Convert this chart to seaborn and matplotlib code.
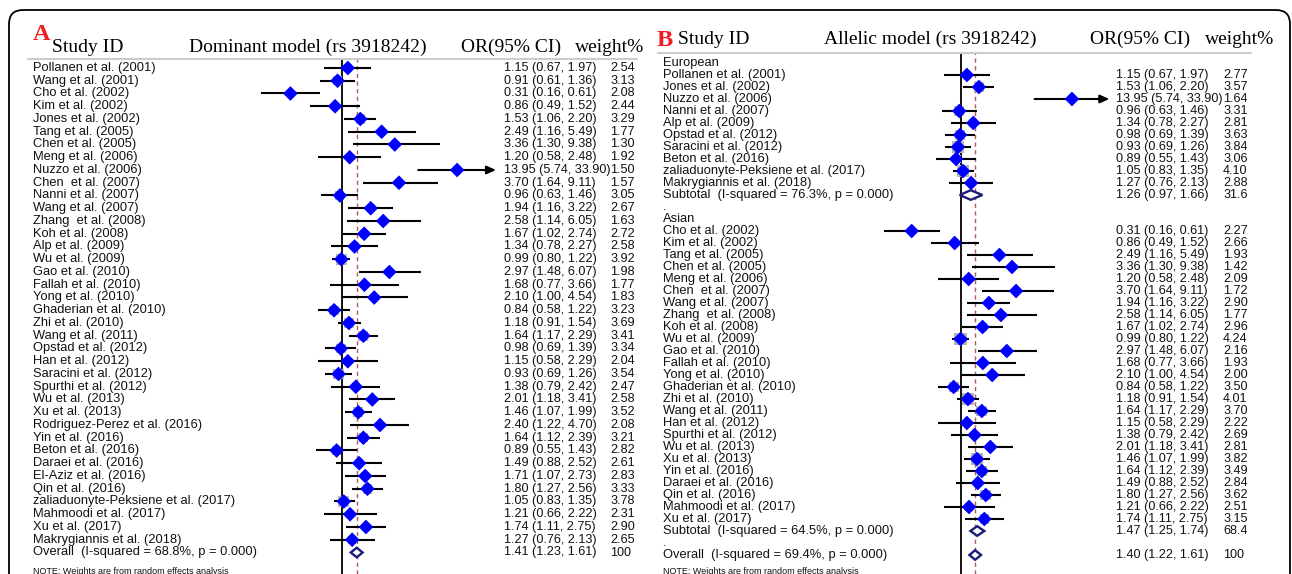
import numpy as np
import pandas as pd
import matplotlib
matplotlib.use("Agg")
import matplotlib.pyplot as plt
import seaborn as sns
from matplotlib import font_manager
from matplotlib.transforms import blended_transform_factory, IdentityTransform
from matplotlib.patches import FancyBboxPatch, Polygon

# -----------------------------
# Panel A: dominant model (rs 3918242)
# -----------------------------
studies_a = [
    "Pollanen et al. (2001)", "Wang et al. (2001)", "Cho et al. (2002)", "Kim et al. (2002)",
    "Jones et al. (2002)", "Tang et al. (2005)", "Chen et al. (2005)", "Meng et al. (2006)",
    "Nuzzo et al. (2006)", "Chen  et al. (2007)", "Nanni et al. (2007)", "Wang et al. (2007)",
    "Zhang  et al. (2008)", "Koh et al. (2008)", "Alp et al. (2009)", "Wu et al. (2009)",
    "Gao et al. (2010)", "Fallah et al. (2010)", "Yong et al. (2010)", "Ghaderian et al. (2010)",
    "Zhi et al. (2010)", "Wang et al. (2011)", "Opstad et al. (2012)", "Han et al. (2012)",
    "Saracini et al. (2012)", "Spurthi et al. (2012)", "Wu et al. (2013)", "Xu et al. (2013)",
    "Rodriguez-Perez et al. (2016)", "Yin et al. (2016)", "Beton et al. (2016)", "Daraei et al. (2016)",
    "El-Aziz et al. (2016)", "Qin et al. (2016)", "zaliaduonyte-Peksiene et al. (2017)",
    "Mahmoodi et al. (2017)", "Xu et al. (2017)", "Makrygiannis et al. (2018)",
]
or_a = [1.15, 0.91, 0.31, 0.86, 1.53, 2.49, 3.36, 1.20, 13.95, 3.70, 0.96, 1.94, 2.58, 1.67,
        1.34, 0.99, 2.97, 1.68, 2.10, 0.84, 1.18, 1.64, 0.98, 1.15, 0.93, 1.38, 2.01, 1.46,
        2.40, 1.64, 0.89, 1.49, 1.71, 1.80, 1.05, 1.21, 1.74, 1.27]
lo_a = [0.67, 0.61, 0.16, 0.49, 1.06, 1.16, 1.30, 0.58, 5.74, 1.64, 0.63, 1.16, 1.14, 1.02,
        0.78, 0.80, 1.48, 0.77, 1.00, 0.58, 0.91, 1.17, 0.69, 0.58, 0.69, 0.79, 1.18, 1.07,
        1.22, 1.12, 0.55, 0.88, 1.07, 1.27, 0.83, 0.66, 1.11, 0.76]
hi_a = [1.97, 1.36, 0.61, 1.52, 2.20, 5.49, 9.38, 2.48, 33.90, 9.11, 1.46, 3.22, 6.05, 2.74,
        2.27, 1.22, 6.07, 3.66, 4.54, 1.22, 1.54, 2.29, 1.39, 2.29, 1.26, 2.42, 3.41, 1.99,
        4.70, 2.39, 1.43, 2.52, 2.73, 2.56, 1.35, 2.22, 2.75, 2.13]
wt_a = [2.54, 3.13, 2.08, 2.44, 3.29, 1.77, 1.30, 1.92, 1.50, 1.57, 3.05, 2.67, 1.63, 2.72,
        2.58, 3.92, 1.98, 1.77, 1.83, 3.23, 3.69, 3.41, 3.34, 2.04, 3.54, 2.47, 2.58, 3.52,
        2.08, 3.21, 2.82, 2.61, 2.83, 3.33, 3.78, 2.31, 2.90, 2.65]
overall_a = [1.41, 1.23, 1.61, 100]
overall_a_label = "Overall  (I-squared = 68.8%, p = 0.000)"

# -----------------------------
# Panel B: allelic model (rs 3918242)
# -----------------------------
studies_eur = [
    "Pollanen et al. (2001)", "Jones et al. (2002)", "Nuzzo et al. (2006)", "Nanni et al. (2007)",
    "Alp et al. (2009)", "Opstad et al. (2012)", "Saracini et al. (2012)", "Beton et al. (2016)",
    "zaliaduonyte-Peksiene et al. (2017)", "Makrygiannis et al. (2018)",
]
or_eur = [1.15, 1.53, 13.95, 0.96, 1.34, 0.98, 0.93, 0.89, 1.05, 1.27]
lo_eur = [0.67, 1.06, 5.74, 0.63, 0.78, 0.69, 0.69, 0.55, 0.83, 0.76]
hi_eur = [1.97, 2.20, 33.90, 1.46, 2.27, 1.39, 1.26, 1.43, 1.35, 2.13]
wt_eur = [2.77, 3.57, 1.64, 3.31, 2.81, 3.63, 3.84, 3.06, 4.10, 2.88]
sub_eur = [1.26, 0.97, 1.66, 31.6]
sub_eur_label = "Subtotal  (I-squared = 76.3%, p = 0.000)"

studies_asn = [
    "Cho et al. (2002)", "Kim et al. (2002)", "Tang et al. (2005)", "Chen et al. (2005)",
    "Meng et al. (2006)", "Chen  et al. (2007)", "Wang et al. (2007)", "Zhang  et al. (2008)",
    "Koh et al. (2008)", "Wu et al. (2009)", "Gao et al. (2010)", "Fallah et al. (2010)",
    "Yong et al. (2010)", "Ghaderian et al. (2010)", "Zhi et al. (2010)", "Wang et al. (2011)",
    "Han et al. (2012)", "Spurthi et al. (2012)", "Wu et al. (2013)", "Xu et al. (2013)",
    "Yin et al. (2016)", "Daraei et al. (2016)", "Qin et al. (2016)", "Mahmoodi et al. (2017)",
    "Xu et al. (2017)",
]
or_asn = [0.31, 0.86, 2.49, 3.36, 1.20, 3.70, 1.94, 2.58, 1.67, 0.99, 2.97, 1.68, 2.10, 0.84,
          1.18, 1.64, 1.15, 1.38, 2.01, 1.46, 1.64, 1.49, 1.80, 1.21, 1.74]
lo_asn = [0.16, 0.49, 1.16, 1.30, 0.58, 1.64, 1.16, 1.14, 1.02, 0.80, 1.48, 0.77, 1.00, 0.58,
          0.91, 1.17, 0.58, 0.79, 1.18, 1.07, 1.12, 0.88, 1.27, 0.66, 1.11]
hi_asn = [0.61, 1.52, 5.49, 9.38, 2.48, 9.11, 3.22, 6.05, 2.74, 1.22, 6.07, 3.66, 4.54, 1.22,
          1.54, 2.29, 2.29, 2.42, 3.41, 1.99, 2.39, 2.52, 2.56, 2.22, 2.75]
wt_asn = [2.27, 2.66, 1.93, 1.42, 2.09, 1.72, 2.90, 1.77, 2.96, 4.24, 2.16, 1.93, 2.00, 3.50,
          4.01, 3.70, 2.22, 2.69, 2.81, 3.82, 3.49, 2.84, 3.62, 2.51, 3.15]
sub_asn = [1.47, 1.25, 1.74, 68.4]
sub_asn_label = "Subtotal  (I-squared = 64.5%, p = 0.000)"
overall_b = [1.40, 1.22, 1.61, 100]
overall_b_label = "Overall  (I-squared = 69.4%, p = 0.000)"

note = "NOTE: Weights are from random effects analysis"


def rows_study(names, o, l, h, w):
    return [dict(label=n, kind="study", OR=a, lo=b, hi=c, wt=d) for n, a, b, c, d in zip(names, o, l, h, w)]


def row_pooled(label, vals):
    return dict(label=label, kind="pooled", OR=vals[0], lo=vals[1], hi=vals[2], wt=vals[3])


def row_text(label):
    return dict(label=label, kind="text", OR=np.nan, lo=np.nan, hi=np.nan, wt=np.nan)


df_a = pd.DataFrame(rows_study(studies_a, or_a, lo_a, hi_a, wt_a)
                    + [row_pooled(overall_a_label, overall_a)])
df_b = pd.DataFrame([row_text("European")]
                    + rows_study(studies_eur, or_eur, lo_eur, hi_eur, wt_eur)
                    + [row_pooled(sub_eur_label, sub_eur), row_text("."), row_text("Asian")]
                    + rows_study(studies_asn, or_asn, lo_asn, hi_asn, wt_asn)
                    + [row_pooled(sub_asn_label, sub_asn), row_text("."),
                       row_pooled(overall_b_label, overall_b)])
df_a["row"] = np.arange(len(df_a))
df_b["row"] = np.arange(len(df_b))

# -----------------------------
# Figure
# -----------------------------
sns.set_theme(style="white")
plt.rcParams["font.family"] = ["Liberation Sans", "DejaVu Sans"]

# the original body text is a tall, condensed Arial-like face
installed = {f.name for f in font_manager.fontManager.ttflist}
if "Liberation Sans Narrow" in installed:
    body = dict(family=["Liberation Sans Narrow", "Liberation Sans"], lab=10.8, num=10.6)
else:
    body = dict(family=["Liberation Sans", "DejaVu Sans"], lab=9.3, num=9.1)

W, H = 1292, 574
fig = plt.figure(figsize=(W / 100, H / 100), dpi=100)
fig.patch.set_facecolor("white")

# outer rounded frame
frame = FancyBboxPatch((9, -40), 1281, H - 10 + 40, boxstyle="round,pad=0,rounding_size=14",
                       transform=IdentityTransform(), fc="none", ec="black", lw=1.3)
fig.add_artist(frame)

panels = [
    dict(df=df_a, letter="A", model="Dominant model (rs 3918242)",
         null_px=341.7, k=43.8, ax_x0=250, ax_x1=500, top=59, row0=68, dy=12.75,
         label_x=33, or_x=504, wt_x=610, head_y=47, letter_x=33, letter_y=35, sid_x=52,
         model_x=308, orh_x=461, wth_x=575, line_x0=28, line_x1=637, pooled=1.41),
    dict(df=df_b, letter="B", model="Allelic model (rs 3918242)",
         null_px=961, k=42.1, ax_x0=870, ax_x1=1115, top=53, row0=63, dy=12.0,
         label_x=663, or_x=1116, wt_x=1223, head_y=39, letter_x=657, letter_y=40, sid_x=678,
         model_x=930, orh_x=1090, wth_x=1205, line_x0=658, line_x1=1251, pooled=1.40),
]


def fmt_wt(w):
    if w >= 100:
        return f"{w:.0f}"
    if w >= 10:
        return f"{w:.1f}"
    return f"{w:.2f}"


for p in panels:
    df = p["df"]
    ax = fig.add_axes([p["ax_x0"] / W, 0, (p["ax_x1"] - p["ax_x0"]) / W, 1 - p["top"] / H])
    ax.set_xscale("log")
    studies = df[df.kind == "study"]
    pooled = df[df.kind == "pooled"]

    # CI lines (arrow when CI runs off the scale)
    long_ci = studies.hi > 20
    ax.hlines(studies.row[~long_ci], studies.lo[~long_ci], studies.hi[~long_ci],
              color="black", lw=1.5, zorder=3)
    for _, r in studies[long_ci].iterrows():
        ax.annotate("", xy=(r.hi, r.row), xytext=(r.lo, r.row),
                    arrowprops=dict(arrowstyle="-|>,head_length=0.45,head_width=0.2",
                                    color="black", lw=1.5, shrinkA=0, shrinkB=0), zorder=3)

    # weight boxes + point estimates
    ax.scatter(studies.OR, studies.row, marker="s", s=(2.1 * studies.wt) ** 2,
               color="#b4b4b4", lw=0, zorder=2)
    sns.scatterplot(data=studies, x="OR", y="row", marker="D", s=56, color="#0000ff",
                    edgecolor="none", linewidth=0, ax=ax, zorder=4, legend=False)

    # pooled diamonds
    hh = 4.8 / p["dy"]
    for _, r in pooled.iterrows():
        ax.add_patch(Polygon([(r.lo, r.row), (r.OR, r.row - hh), (r.hi, r.row), (r.OR, r.row + hh)],
                             closed=True, fc="white", ec="#1c1c78", lw=1.7, zorder=4))

    ax.axvline(1, color="black", lw=1.3, zorder=1)
    ax.axvline(p["pooled"], color="#b05a5a", lw=1.0, ls=(0, (3, 2.5)), zorder=1)

    ax.set_xlim(np.exp((p["ax_x0"] - p["null_px"]) / p["k"]), np.exp((p["ax_x1"] - p["null_px"]) / p["k"]))
    ax.set_ylim((H - p["row0"]) / p["dy"], (p["top"] - p["row0"]) / p["dy"])
    ax.set_axis_off()

    # text columns
    tr = blended_transform_factory(fig.transFigure, ax.transData)
    for _, r in df.iterrows():
        ax.text(p["label_x"] / W, r.row, r.label, transform=tr, family=body["family"],
                fontsize=body["lab"], va="center", ha="left", color="#111111", clip_on=False)
        if r.kind != "text":
            ax.text(p["or_x"] / W, r.row, f"{r.OR:.2f} ({r.lo:.2f}, {r.hi:.2f})", transform=tr,
                    family=body["family"], fontsize=body["num"], va="center", ha="left",
                    color="#111111", clip_on=False)
            ax.text(p["wt_x"] / W, r.row, fmt_wt(r.wt), transform=tr, family=body["family"],
                    fontsize=body["num"], va="center", ha="left", color="#111111", clip_on=False)
    note_row = (571 - p["row0"]) / p["dy"]
    ax.text(p["label_x"] / W, note_row, note, transform=tr, fontsize=6.5,
            va="center", ha="left", color="#111111", clip_on=False)

    # header
    ft = dict(family=["Liberation Serif", "DejaVu Serif"], fontsize=14, color="black", va="center")
    fig.text(p["letter_x"] / W, 1 - p["letter_y"] / H, p["letter"], family=["Liberation Serif"],
             fontsize=17.5, fontweight="bold", color="#ee1c24", va="center", ha="left")
    fig.text(p["sid_x"] / W, 1 - p["head_y"] / H, "Study ID", ha="left", **ft)
    fig.text(p["model_x"] / W, 1 - p["head_y"] / H, p["model"], ha="center", **ft)
    fig.text(p["orh_x"] / W, 1 - p["head_y"] / H, "OR(95% CI)", ha="left", **ft)
    fig.text(p["wth_x"] / W, 1 - p["head_y"] / H, "weight%", ha="left", **ft)
    fig.add_artist(plt.Line2D([p["line_x0"] / W, p["line_x1"] / W], [1 - p["top"] / H] * 2,
                              transform=fig.transFigure, color="#cccccc", lw=1.5))

fig.savefig("out.png", dpi=100)
